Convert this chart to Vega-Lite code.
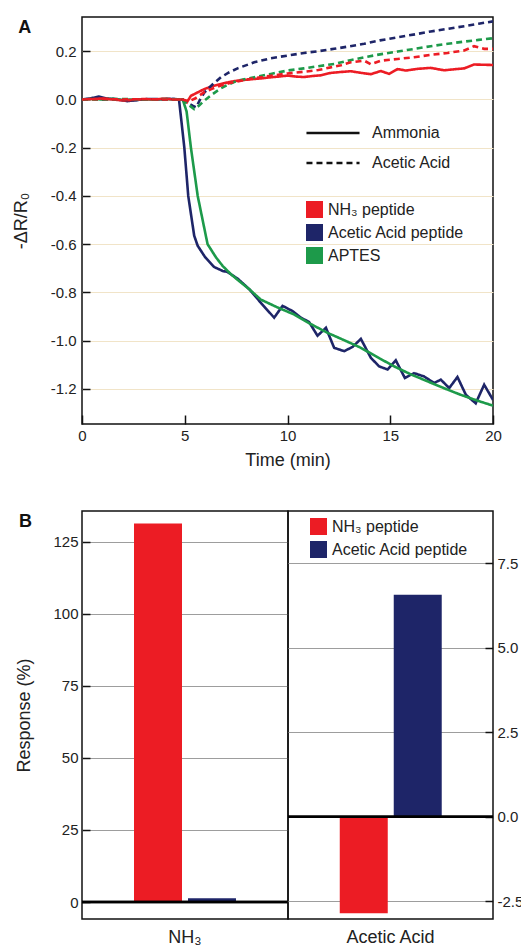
{
  "$schema": "https://vega.github.io/schema/vega-lite/v6.json",
  "padding": {"left": 11, "top": 16, "right": 0, "bottom": 0},
  "background": "white",
  "bounds": "flush",
  "spacing": 87,
  "resolve": {"scale": {"color": "independent"}},
  "datasets": {
    "lines": [
      {"t":0,"v":0,"peptide":"Acetic Acid peptide","gas":"Ammonia"},
      {"t":0.4,"v":0.004,"peptide":"Acetic Acid peptide","gas":"Ammonia"},
      {"t":0.8,"v":0.012,"peptide":"Acetic Acid peptide","gas":"Ammonia"},
      {"t":1.2,"v":0.004,"peptide":"Acetic Acid peptide","gas":"Ammonia"},
      {"t":1.7,"v":0.0,"peptide":"Acetic Acid peptide","gas":"Ammonia"},
      {"t":2.2,"v":-0.007,"peptide":"Acetic Acid peptide","gas":"Ammonia"},
      {"t":2.7,"v":-0.002,"peptide":"Acetic Acid peptide","gas":"Ammonia"},
      {"t":3.2,"v":0.002,"peptide":"Acetic Acid peptide","gas":"Ammonia"},
      {"t":3.7,"v":0.0,"peptide":"Acetic Acid peptide","gas":"Ammonia"},
      {"t":4.2,"v":0.003,"peptide":"Acetic Acid peptide","gas":"Ammonia"},
      {"t":4.72,"v":0.0,"peptide":"Acetic Acid peptide","gas":"Ammonia"},
      {"t":4.98,"v":-0.2,"peptide":"Acetic Acid peptide","gas":"Ammonia"},
      {"t":5.17,"v":-0.4,"peptide":"Acetic Acid peptide","gas":"Ammonia"},
      {"t":5.46,"v":-0.565,"peptide":"Acetic Acid peptide","gas":"Ammonia"},
      {"t":5.63,"v":-0.607,"peptide":"Acetic Acid peptide","gas":"Ammonia"},
      {"t":6.0,"v":-0.655,"peptide":"Acetic Acid peptide","gas":"Ammonia"},
      {"t":6.43,"v":-0.695,"peptide":"Acetic Acid peptide","gas":"Ammonia"},
      {"t":6.84,"v":-0.711,"peptide":"Acetic Acid peptide","gas":"Ammonia"},
      {"t":7.09,"v":-0.716,"peptide":"Acetic Acid peptide","gas":"Ammonia"},
      {"t":7.6,"v":-0.745,"peptide":"Acetic Acid peptide","gas":"Ammonia"},
      {"t":8.14,"v":-0.787,"peptide":"Acetic Acid peptide","gas":"Ammonia"},
      {"t":8.7,"v":-0.843,"peptide":"Acetic Acid peptide","gas":"Ammonia"},
      {"t":9.35,"v":-0.905,"peptide":"Acetic Acid peptide","gas":"Ammonia"},
      {"t":9.76,"v":-0.856,"peptide":"Acetic Acid peptide","gas":"Ammonia"},
      {"t":10.25,"v":-0.878,"peptide":"Acetic Acid peptide","gas":"Ammonia"},
      {"t":10.65,"v":-0.905,"peptide":"Acetic Acid peptide","gas":"Ammonia"},
      {"t":11.05,"v":-0.923,"peptide":"Acetic Acid peptide","gas":"Ammonia"},
      {"t":11.46,"v":-0.98,"peptide":"Acetic Acid peptide","gas":"Ammonia"},
      {"t":11.87,"v":-0.947,"peptide":"Acetic Acid peptide","gas":"Ammonia"},
      {"t":12.27,"v":-1.03,"peptide":"Acetic Acid peptide","gas":"Ammonia"},
      {"t":12.76,"v":-1.044,"peptide":"Acetic Acid peptide","gas":"Ammonia"},
      {"t":13.17,"v":-1.026,"peptide":"Acetic Acid peptide","gas":"Ammonia"},
      {"t":13.57,"v":-0.993,"peptide":"Acetic Acid peptide","gas":"Ammonia"},
      {"t":14.06,"v":-1.072,"peptide":"Acetic Acid peptide","gas":"Ammonia"},
      {"t":14.46,"v":-1.107,"peptide":"Acetic Acid peptide","gas":"Ammonia"},
      {"t":14.87,"v":-1.12,"peptide":"Acetic Acid peptide","gas":"Ammonia"},
      {"t":15.27,"v":-1.082,"peptide":"Acetic Acid peptide","gas":"Ammonia"},
      {"t":15.71,"v":-1.155,"peptide":"Acetic Acid peptide","gas":"Ammonia"},
      {"t":16.16,"v":-1.135,"peptide":"Acetic Acid peptide","gas":"Ammonia"},
      {"t":16.65,"v":-1.149,"peptide":"Acetic Acid peptide","gas":"Ammonia"},
      {"t":17.14,"v":-1.176,"peptide":"Acetic Acid peptide","gas":"Ammonia"},
      {"t":17.46,"v":-1.162,"peptide":"Acetic Acid peptide","gas":"Ammonia"},
      {"t":17.87,"v":-1.197,"peptide":"Acetic Acid peptide","gas":"Ammonia"},
      {"t":18.27,"v":-1.151,"peptide":"Acetic Acid peptide","gas":"Ammonia"},
      {"t":18.68,"v":-1.225,"peptide":"Acetic Acid peptide","gas":"Ammonia"},
      {"t":19.16,"v":-1.26,"peptide":"Acetic Acid peptide","gas":"Ammonia"},
      {"t":19.57,"v":-1.183,"peptide":"Acetic Acid peptide","gas":"Ammonia"},
      {"t":20,"v":-1.246,"peptide":"Acetic Acid peptide","gas":"Ammonia"},

      {"t":0,"v":0,"peptide":"APTES","gas":"Ammonia"},
      {"t":0.5,"v":0.002,"peptide":"APTES","gas":"Ammonia"},
      {"t":1,"v":0.0,"peptide":"APTES","gas":"Ammonia"},
      {"t":1.5,"v":0.003,"peptide":"APTES","gas":"Ammonia"},
      {"t":2,"v":-0.002,"peptide":"APTES","gas":"Ammonia"},
      {"t":2.5,"v":0.0,"peptide":"APTES","gas":"Ammonia"},
      {"t":3,"v":0.001,"peptide":"APTES","gas":"Ammonia"},
      {"t":3.5,"v":0.0,"peptide":"APTES","gas":"Ammonia"},
      {"t":4,"v":0.002,"peptide":"APTES","gas":"Ammonia"},
      {"t":4.5,"v":0.0,"peptide":"APTES","gas":"Ammonia"},
      {"t":4.9,"v":0.0,"peptide":"APTES","gas":"Ammonia"},
      {"t":5.09,"v":-0.05,"peptide":"APTES","gas":"Ammonia"},
      {"t":5.3,"v":-0.2,"peptide":"APTES","gas":"Ammonia"},
      {"t":5.63,"v":-0.4,"peptide":"APTES","gas":"Ammonia"},
      {"t":6.11,"v":-0.6,"peptide":"APTES","gas":"Ammonia"},
      {"t":6.52,"v":-0.655,"peptide":"APTES","gas":"Ammonia"},
      {"t":6.84,"v":-0.69,"peptide":"APTES","gas":"Ammonia"},
      {"t":7.25,"v":-0.725,"peptide":"APTES","gas":"Ammonia"},
      {"t":7.6,"v":-0.75,"peptide":"APTES","gas":"Ammonia"},
      {"t":8.14,"v":-0.787,"peptide":"APTES","gas":"Ammonia"},
      {"t":8.7,"v":-0.83,"peptide":"APTES","gas":"Ammonia"},
      {"t":9.5,"v":-0.862,"peptide":"APTES","gas":"Ammonia"},
      {"t":10.33,"v":-0.892,"peptide":"APTES","gas":"Ammonia"},
      {"t":11.1,"v":-0.93,"peptide":"APTES","gas":"Ammonia"},
      {"t":11.95,"v":-0.968,"peptide":"APTES","gas":"Ammonia"},
      {"t":12.8,"v":-1.0,"peptide":"APTES","gas":"Ammonia"},
      {"t":13.57,"v":-1.03,"peptide":"APTES","gas":"Ammonia"},
      {"t":14.4,"v":-1.07,"peptide":"APTES","gas":"Ammonia"},
      {"t":15.19,"v":-1.107,"peptide":"APTES","gas":"Ammonia"},
      {"t":16.0,"v":-1.14,"peptide":"APTES","gas":"Ammonia"},
      {"t":16.81,"v":-1.169,"peptide":"APTES","gas":"Ammonia"},
      {"t":17.6,"v":-1.197,"peptide":"APTES","gas":"Ammonia"},
      {"t":18.43,"v":-1.225,"peptide":"APTES","gas":"Ammonia"},
      {"t":19.2,"v":-1.248,"peptide":"APTES","gas":"Ammonia"},
      {"t":20,"v":-1.27,"peptide":"APTES","gas":"Ammonia"},

      {"t":0,"v":0,"peptide":"NH3 peptide","gas":"Ammonia"},
      {"t":0.5,"v":0.002,"peptide":"NH3 peptide","gas":"Ammonia"},
      {"t":1,"v":0.004,"peptide":"NH3 peptide","gas":"Ammonia"},
      {"t":1.5,"v":0.0,"peptide":"NH3 peptide","gas":"Ammonia"},
      {"t":2,"v":-0.004,"peptide":"NH3 peptide","gas":"Ammonia"},
      {"t":2.5,"v":-0.002,"peptide":"NH3 peptide","gas":"Ammonia"},
      {"t":3,"v":0.002,"peptide":"NH3 peptide","gas":"Ammonia"},
      {"t":3.5,"v":0.0,"peptide":"NH3 peptide","gas":"Ammonia"},
      {"t":4,"v":0.003,"peptide":"NH3 peptide","gas":"Ammonia"},
      {"t":4.5,"v":0.0,"peptide":"NH3 peptide","gas":"Ammonia"},
      {"t":4.9,"v":0.0,"peptide":"NH3 peptide","gas":"Ammonia"},
      {"t":5.1,"v":-0.012,"peptide":"NH3 peptide","gas":"Ammonia"},
      {"t":5.3,"v":0.015,"peptide":"NH3 peptide","gas":"Ammonia"},
      {"t":5.6,"v":0.028,"peptide":"NH3 peptide","gas":"Ammonia"},
      {"t":5.95,"v":0.043,"peptide":"NH3 peptide","gas":"Ammonia"},
      {"t":6.35,"v":0.055,"peptide":"NH3 peptide","gas":"Ammonia"},
      {"t":6.76,"v":0.064,"peptide":"NH3 peptide","gas":"Ammonia"},
      {"t":7.15,"v":0.072,"peptide":"NH3 peptide","gas":"Ammonia"},
      {"t":7.57,"v":0.078,"peptide":"NH3 peptide","gas":"Ammonia"},
      {"t":8.0,"v":0.082,"peptide":"NH3 peptide","gas":"Ammonia"},
      {"t":8.38,"v":0.085,"peptide":"NH3 peptide","gas":"Ammonia"},
      {"t":8.8,"v":0.088,"peptide":"NH3 peptide","gas":"Ammonia"},
      {"t":9.19,"v":0.092,"peptide":"NH3 peptide","gas":"Ammonia"},
      {"t":9.6,"v":0.095,"peptide":"NH3 peptide","gas":"Ammonia"},
      {"t":10,"v":0.099,"peptide":"NH3 peptide","gas":"Ammonia"},
      {"t":10.4,"v":0.095,"peptide":"NH3 peptide","gas":"Ammonia"},
      {"t":10.8,"v":0.093,"peptide":"NH3 peptide","gas":"Ammonia"},
      {"t":11.2,"v":0.097,"peptide":"NH3 peptide","gas":"Ammonia"},
      {"t":11.6,"v":0.1,"peptide":"NH3 peptide","gas":"Ammonia"},
      {"t":12.1,"v":0.11,"peptide":"NH3 peptide","gas":"Ammonia"},
      {"t":12.6,"v":0.114,"peptide":"NH3 peptide","gas":"Ammonia"},
      {"t":13.08,"v":0.117,"peptide":"NH3 peptide","gas":"Ammonia"},
      {"t":13.6,"v":0.11,"peptide":"NH3 peptide","gas":"Ammonia"},
      {"t":14.06,"v":0.105,"peptide":"NH3 peptide","gas":"Ammonia"},
      {"t":14.54,"v":0.118,"peptide":"NH3 peptide","gas":"Ammonia"},
      {"t":14.95,"v":0.106,"peptide":"NH3 peptide","gas":"Ammonia"},
      {"t":15.36,"v":0.126,"peptide":"NH3 peptide","gas":"Ammonia"},
      {"t":15.76,"v":0.12,"peptide":"NH3 peptide","gas":"Ammonia"},
      {"t":16.33,"v":0.127,"peptide":"NH3 peptide","gas":"Ammonia"},
      {"t":16.97,"v":0.131,"peptide":"NH3 peptide","gas":"Ammonia"},
      {"t":17.62,"v":0.121,"peptide":"NH3 peptide","gas":"Ammonia"},
      {"t":18.1,"v":0.125,"peptide":"NH3 peptide","gas":"Ammonia"},
      {"t":18.6,"v":0.129,"peptide":"NH3 peptide","gas":"Ammonia"},
      {"t":19.08,"v":0.145,"peptide":"NH3 peptide","gas":"Ammonia"},
      {"t":19.5,"v":0.144,"peptide":"NH3 peptide","gas":"Ammonia"},
      {"t":20,"v":0.143,"peptide":"NH3 peptide","gas":"Ammonia"},

      {"t":0,"v":0,"peptide":"Acetic Acid peptide","gas":"Acetic Acid"},
      {"t":0.5,"v":0.003,"peptide":"Acetic Acid peptide","gas":"Acetic Acid"},
      {"t":1,"v":0.0,"peptide":"Acetic Acid peptide","gas":"Acetic Acid"},
      {"t":1.5,"v":0.002,"peptide":"Acetic Acid peptide","gas":"Acetic Acid"},
      {"t":2,"v":0.0,"peptide":"Acetic Acid peptide","gas":"Acetic Acid"},
      {"t":2.5,"v":-0.003,"peptide":"Acetic Acid peptide","gas":"Acetic Acid"},
      {"t":3,"v":0.0,"peptide":"Acetic Acid peptide","gas":"Acetic Acid"},
      {"t":3.5,"v":0.002,"peptide":"Acetic Acid peptide","gas":"Acetic Acid"},
      {"t":4,"v":0.0,"peptide":"Acetic Acid peptide","gas":"Acetic Acid"},
      {"t":4.5,"v":0.002,"peptide":"Acetic Acid peptide","gas":"Acetic Acid"},
      {"t":4.9,"v":0.0,"peptide":"Acetic Acid peptide","gas":"Acetic Acid"},
      {"t":5.15,"v":-0.015,"peptide":"Acetic Acid peptide","gas":"Acetic Acid"},
      {"t":5.38,"v":-0.026,"peptide":"Acetic Acid peptide","gas":"Acetic Acid"},
      {"t":5.55,"v":-0.033,"peptide":"Acetic Acid peptide","gas":"Acetic Acid"},
      {"t":5.75,"v":0.0,"peptide":"Acetic Acid peptide","gas":"Acetic Acid"},
      {"t":5.95,"v":0.029,"peptide":"Acetic Acid peptide","gas":"Acetic Acid"},
      {"t":6.35,"v":0.062,"peptide":"Acetic Acid peptide","gas":"Acetic Acid"},
      {"t":6.76,"v":0.092,"peptide":"Acetic Acid peptide","gas":"Acetic Acid"},
      {"t":7.15,"v":0.112,"peptide":"Acetic Acid peptide","gas":"Acetic Acid"},
      {"t":7.57,"v":0.129,"peptide":"Acetic Acid peptide","gas":"Acetic Acid"},
      {"t":8.38,"v":0.154,"peptide":"Acetic Acid peptide","gas":"Acetic Acid"},
      {"t":9.19,"v":0.171,"peptide":"Acetic Acid peptide","gas":"Acetic Acid"},
      {"t":10,"v":0.182,"peptide":"Acetic Acid peptide","gas":"Acetic Acid"},
      {"t":10.8,"v":0.193,"peptide":"Acetic Acid peptide","gas":"Acetic Acid"},
      {"t":11.5,"v":0.2,"peptide":"Acetic Acid peptide","gas":"Acetic Acid"},
      {"t":12.27,"v":0.21,"peptide":"Acetic Acid peptide","gas":"Acetic Acid"},
      {"t":13,"v":0.22,"peptide":"Acetic Acid peptide","gas":"Acetic Acid"},
      {"t":13.73,"v":0.231,"peptide":"Acetic Acid peptide","gas":"Acetic Acid"},
      {"t":14.5,"v":0.245,"peptide":"Acetic Acid peptide","gas":"Acetic Acid"},
      {"t":15.36,"v":0.258,"peptide":"Acetic Acid peptide","gas":"Acetic Acid"},
      {"t":16.2,"v":0.27,"peptide":"Acetic Acid peptide","gas":"Acetic Acid"},
      {"t":16.97,"v":0.282,"peptide":"Acetic Acid peptide","gas":"Acetic Acid"},
      {"t":17.8,"v":0.293,"peptide":"Acetic Acid peptide","gas":"Acetic Acid"},
      {"t":18.6,"v":0.304,"peptide":"Acetic Acid peptide","gas":"Acetic Acid"},
      {"t":19.3,"v":0.314,"peptide":"Acetic Acid peptide","gas":"Acetic Acid"},
      {"t":20,"v":0.324,"peptide":"Acetic Acid peptide","gas":"Acetic Acid"},

      {"t":0,"v":0,"peptide":"APTES","gas":"Acetic Acid"},
      {"t":1,"v":0.0,"peptide":"APTES","gas":"Acetic Acid"},
      {"t":2,"v":0.002,"peptide":"APTES","gas":"Acetic Acid"},
      {"t":3,"v":0.0,"peptide":"APTES","gas":"Acetic Acid"},
      {"t":4,"v":0.001,"peptide":"APTES","gas":"Acetic Acid"},
      {"t":4.9,"v":0.0,"peptide":"APTES","gas":"Acetic Acid"},
      {"t":5.15,"v":-0.02,"peptide":"APTES","gas":"Acetic Acid"},
      {"t":5.46,"v":-0.04,"peptide":"APTES","gas":"Acetic Acid"},
      {"t":5.7,"v":-0.025,"peptide":"APTES","gas":"Acetic Acid"},
      {"t":5.95,"v":-0.005,"peptide":"APTES","gas":"Acetic Acid"},
      {"t":6.35,"v":0.022,"peptide":"APTES","gas":"Acetic Acid"},
      {"t":6.76,"v":0.046,"peptide":"APTES","gas":"Acetic Acid"},
      {"t":7.15,"v":0.063,"peptide":"APTES","gas":"Acetic Acid"},
      {"t":7.57,"v":0.078,"peptide":"APTES","gas":"Acetic Acid"},
      {"t":8.38,"v":0.092,"peptide":"APTES","gas":"Acetic Acid"},
      {"t":9.19,"v":0.106,"peptide":"APTES","gas":"Acetic Acid"},
      {"t":10,"v":0.12,"peptide":"APTES","gas":"Acetic Acid"},
      {"t":10.8,"v":0.129,"peptide":"APTES","gas":"Acetic Acid"},
      {"t":11.5,"v":0.138,"peptide":"APTES","gas":"Acetic Acid"},
      {"t":12.27,"v":0.147,"peptide":"APTES","gas":"Acetic Acid"},
      {"t":13,"v":0.162,"peptide":"APTES","gas":"Acetic Acid"},
      {"t":13.73,"v":0.175,"peptide":"APTES","gas":"Acetic Acid"},
      {"t":14.5,"v":0.187,"peptide":"APTES","gas":"Acetic Acid"},
      {"t":15.36,"v":0.199,"peptide":"APTES","gas":"Acetic Acid"},
      {"t":16.2,"v":0.21,"peptide":"APTES","gas":"Acetic Acid"},
      {"t":16.97,"v":0.221,"peptide":"APTES","gas":"Acetic Acid"},
      {"t":17.8,"v":0.231,"peptide":"APTES","gas":"Acetic Acid"},
      {"t":18.6,"v":0.24,"peptide":"APTES","gas":"Acetic Acid"},
      {"t":19.3,"v":0.247,"peptide":"APTES","gas":"Acetic Acid"},
      {"t":20,"v":0.254,"peptide":"APTES","gas":"Acetic Acid"},

      {"t":0,"v":0,"peptide":"NH3 peptide","gas":"Acetic Acid"},
      {"t":1,"v":0.002,"peptide":"NH3 peptide","gas":"Acetic Acid"},
      {"t":2,"v":0.0,"peptide":"NH3 peptide","gas":"Acetic Acid"},
      {"t":3,"v":0.001,"peptide":"NH3 peptide","gas":"Acetic Acid"},
      {"t":4,"v":0.0,"peptide":"NH3 peptide","gas":"Acetic Acid"},
      {"t":4.9,"v":0.0,"peptide":"NH3 peptide","gas":"Acetic Acid"},
      {"t":5.2,"v":-0.008,"peptide":"NH3 peptide","gas":"Acetic Acid"},
      {"t":5.5,"v":0.004,"peptide":"NH3 peptide","gas":"Acetic Acid"},
      {"t":5.95,"v":0.03,"peptide":"NH3 peptide","gas":"Acetic Acid"},
      {"t":6.35,"v":0.045,"peptide":"NH3 peptide","gas":"Acetic Acid"},
      {"t":6.76,"v":0.058,"peptide":"NH3 peptide","gas":"Acetic Acid"},
      {"t":7.15,"v":0.067,"peptide":"NH3 peptide","gas":"Acetic Acid"},
      {"t":7.57,"v":0.075,"peptide":"NH3 peptide","gas":"Acetic Acid"},
      {"t":8.38,"v":0.088,"peptide":"NH3 peptide","gas":"Acetic Acid"},
      {"t":9.19,"v":0.098,"peptide":"NH3 peptide","gas":"Acetic Acid"},
      {"t":10,"v":0.108,"peptide":"NH3 peptide","gas":"Acetic Acid"},
      {"t":10.8,"v":0.115,"peptide":"NH3 peptide","gas":"Acetic Acid"},
      {"t":11.5,"v":0.122,"peptide":"NH3 peptide","gas":"Acetic Acid"},
      {"t":12.1,"v":0.133,"peptide":"NH3 peptide","gas":"Acetic Acid"},
      {"t":12.6,"v":0.142,"peptide":"NH3 peptide","gas":"Acetic Acid"},
      {"t":13.08,"v":0.154,"peptide":"NH3 peptide","gas":"Acetic Acid"},
      {"t":13.73,"v":0.161,"peptide":"NH3 peptide","gas":"Acetic Acid"},
      {"t":14.06,"v":0.146,"peptide":"NH3 peptide","gas":"Acetic Acid"},
      {"t":14.54,"v":0.161,"peptide":"NH3 peptide","gas":"Acetic Acid"},
      {"t":15.36,"v":0.168,"peptide":"NH3 peptide","gas":"Acetic Acid"},
      {"t":16.16,"v":0.175,"peptide":"NH3 peptide","gas":"Acetic Acid"},
      {"t":16.97,"v":0.185,"peptide":"NH3 peptide","gas":"Acetic Acid"},
      {"t":17.79,"v":0.193,"peptide":"NH3 peptide","gas":"Acetic Acid"},
      {"t":18.6,"v":0.203,"peptide":"NH3 peptide","gas":"Acetic Acid"},
      {"t":19.08,"v":0.221,"peptide":"NH3 peptide","gas":"Acetic Acid"},
      {"t":19.57,"v":0.21,"peptide":"NH3 peptide","gas":"Acetic Acid"},
      {"t":20,"v":0.21,"peptide":"NH3 peptide","gas":"Acetic Acid"}
    ],
    "bars": [
      {"gas":"NH3","peptide":"NH3 peptide","response":131.4},
      {"gas":"NH3","peptide":"Acetic Acid peptide","response":1.3},
      {"gas":"Acetic Acid","peptide":"NH3 peptide","response":-2.86},
      {"gas":"Acetic Acid","peptide":"Acetic Acid peptide","response":6.57}
    ]
  },
  "vconcat": [
    {
      "width": 411,
      "height": 407,
      "title": {"text": "A", "anchor": "start", "frame": "bounds", "offset": -20, "dx": 6, "fontSize": 18, "fontWeight": "bold", "color": "#111"},
      "data": {"name": "lines"},
      "mark": {"type": "line", "strokeWidth": 2.6, "clip": true},
      "encoding": {
        "x": {"field": "t", "type": "quantitative", "scale": {"domain": [0, 20], "nice": false},
              "axis": {"title": "Time (min)", "values": [0, 5, 10, 15, 20], "labelFlush": false, "grid": false, "domain": false, "tickSize": -9, "labelPadding": 13, "titlePadding": 8}},
        "y": {"field": "v", "type": "quantitative", "scale": {"domain": [-1.346, 0.342], "nice": false, "zero": false},
              "axis": {"title": "-ΔR/R₀", "values": [-1.2, -1, -0.8, -0.6, -0.4, -0.2, 0, 0.2], "format": ".1f", "labelExpr": "replace(datum.label, '\u2212', '-')", "grid": true, "gridColor": "#f1e4c8", "gridWidth": 1.2, "domain": false, "tickSize": -8, "labelPadding": 14, "titlePadding": 20}},
        "color": {"field": "peptide", "type": "nominal",
                  "scale": {"domain": ["NH3 peptide", "Acetic Acid peptide", "APTES"], "range": ["#ec1c24", "#1e2568", "#1d9a4a"]},
                  "legend": {"orient": "none", "legendX": 224, "legendY": 184, "title": null, "symbolType": "square", "symbolSize": 289, "symbolStrokeWidth": 0, "labelFontSize": 16, "labelOffset": 5, "rowPadding": 6, "padding": 0,
                             "labelExpr": "datum.label == 'NH3 peptide' ? 'NH₃ peptide' : datum.label",
                             "encode": {"symbols": {"update": {"fill": {"signal": "datum.value == 'NH3 peptide' ? '#ec1c24' : datum.value == 'APTES' ? '#1d9a4a' : '#1e2568'"}, "stroke": {"value": "transparent"}, "strokeWidth": {"value": 0}}}}}},
        "strokeDash": {"field": "gas", "type": "nominal",
                  "scale": {"domain": ["Ammonia", "Acetic Acid"], "range": [[1, 0], [6, 4]]},
                  "legend": {"orient": "none", "legendX": 243, "legendY": 108, "title": null, "symbolType": "M-4,0H4", "symbolSize": 176, "symbolStrokeWidth": 2.5, "symbolStrokeColor": "#111", "labelFontSize": 16, "labelOffset": 31, "rowPadding": 14, "padding": 0}}
      }
    },
    {
      "hconcat": [
        {
          "width": 206,
          "height": 408,
          "title": {"text": "B", "anchor": "start", "frame": "bounds", "offset": -20, "dx": 3, "fontSize": 18, "fontWeight": "bold", "color": "#111"},
          "data": {"name": "bars"},
          "transform": [{"filter": "datum.gas == 'NH3'"}],
          "layer": [
            {
              "mark": {"type": "bar"},
              "encoding": {
                "x": {"field": "gas", "type": "nominal", "scale": {"paddingInner": 0, "paddingOuter": 0.51},
                      "axis": {"title": null, "labelAngle": 0, "ticks": false, "domain": false, "labelPadding": 9, "labelFontSize": 18, "labelExpr": "datum.label == 'NH3' ? 'NH₃' : datum.label"}},
                "xOffset": {"field": "peptide", "type": "nominal", "scale": {"domain": ["NH3 peptide", "Acetic Acid peptide"], "paddingInner": 0.111, "paddingOuter": 0}},
                "y": {"field": "response", "type": "quantitative", "scale": {"domain": [-5.9, 135.7], "nice": false, "zero": false},
                      "axis": {"title": "Response (%)", "values": [0, 25, 50, 75, 100, 125], "grid": true, "gridColor": "#9d9d9d", "domain": false, "tickSize": -8, "labelPadding": 12, "titlePadding": 19}},
                "color": {"field": "peptide", "type": "nominal", "scale": {"domain": ["NH3 peptide", "Acetic Acid peptide"], "range": ["#ec1c24", "#1e2568"]}, "legend": null}
              }
            },
            {"mark": {"type": "rule", "strokeWidth": 2.5, "color": "#000"}, "encoding": {"y": {"datum": 0}}}
          ]
        },
        {
          "width": 205,
          "height": 408,
          "data": {"name": "bars"},
          "transform": [{"filter": "datum.gas == 'Acetic Acid'"}],
          "layer": [
            {
              "mark": {"type": "bar"},
              "encoding": {
                "x": {"field": "gas", "type": "nominal", "scale": {"paddingInner": 0, "paddingOuter": 0.51},
                      "axis": {"title": null, "labelAngle": 0, "ticks": false, "domain": false, "labelPadding": 9, "labelFontSize": 18}},
                "xOffset": {"field": "peptide", "type": "nominal", "scale": {"domain": ["NH3 peptide", "Acetic Acid peptide"], "paddingInner": 0.111, "paddingOuter": 0}},
                "y": {"field": "response", "type": "quantitative", "scale": {"domain": [-3.03, 9.05], "nice": false, "zero": false},
                      "axis": {"orient": "right", "title": null, "values": [-2.5, 0, 2.5, 5, 7.5], "format": ".1f", "labelExpr": "replace(datum.label, '\u2212', '-')", "grid": true, "gridColor": "#9d9d9d", "domain": false, "tickSize": -8, "labelPadding": 12}},
                "color": {"field": "peptide", "type": "nominal", "scale": {"domain": ["NH3 peptide", "Acetic Acid peptide"], "range": ["#ec1c24", "#1e2568"]},
                          "legend": {"orient": "none", "legendX": 22, "legendY": 7, "title": null, "symbolType": "square", "symbolSize": 289, "symbolStrokeWidth": 0, "labelFontSize": 16, "labelOffset": 5, "rowPadding": 6, "padding": 0, "labelExpr": "datum.label == 'NH3 peptide' ? 'NH₃ peptide' : datum.label"}}
              }
            },
            {"mark": {"type": "rule", "strokeWidth": 2.5, "color": "#000"}, "encoding": {"y": {"datum": 0}}}
          ]
        }
      ],
      "spacing": 0,
      "bounds": "flush",
      "resolve": {"scale": {"color": "independent", "y": "independent"}}
    }
  ],
  "config": {
    "font": "Liberation Sans",
    "view": {"stroke": "#111", "strokeWidth": 1.5},
    "axis": {"labelFont": "Liberation Sans", "labelFontSize": 15, "labelColor": "#222", "titleFont": "Liberation Sans", "titleFontSize": 18, "titleFontWeight": "normal", "titleColor": "#222", "tickColor": "#111", "tickWidth": 1.5},
    "legend": {"labelFont": "Liberation Sans", "labelColor": "#222"},
    "title": {"font": "Liberation Sans"}
  }
}
